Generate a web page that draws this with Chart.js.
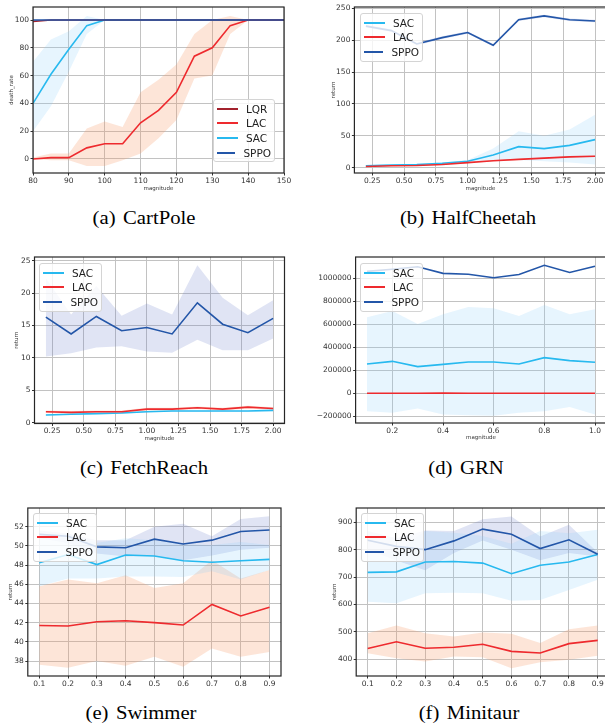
<!DOCTYPE html>
<html>
<head>
<meta charset="utf-8">
<script src="https://cdn.jsdelivr.net/npm/chart.js@4.4.0/dist/chart.umd.min.js"></script>
<style>
html, body { margin: 0; padding: 0; background: #fff; width: 605px; height: 723px; overflow: hidden; position: relative; }
canvas { position: absolute; }
.leg { position: absolute; box-sizing: border-box; background: rgba(255,255,255,0.8); border: 1px solid #d4d4d4; border-radius: 3px;
       padding: 1.5px 3px; font-family: 'DejaVu Sans'; font-size: 10.5px; color: #222; }
.leg .row { height: 14.6px; display: flex; align-items: center; white-space: nowrap; }
.leg .sw { display: inline-block; width: 21px; height: 2px; margin-right: 8px; }
.cap { position: absolute; font-family: 'Liberation Serif'; font-size: 18px; color: #000; white-space: nowrap;
       word-spacing: 2px; transform: translate(-50%, -50%) scaleX(1.15); }
</style>
</head>
<body>
<script>
// colours
const SAC_C = '#27b9ef', LAC_C = '#ee2a2e', SPPO_C = '#2356a8', LQR_C = '#a3222d';
const SAC_B = 'rgba(135,206,250,0.2)', LAC_B = 'rgba(247,150,100,0.25)', SPPO_B = 'rgba(100,120,200,0.2)';

// (a) CartPole
const cpX = [80, 85, 90, 95, 100, 105, 110, 115, 120, 125, 130, 135, 140, 145, 150];
const cpLqr = [99, 100, 100, 100, 100, 100, 100, 100, 100, 100, 100, 100, 100, 100, 100];
const cpLac = [0, 1, 1, 8, 11, 11, 26, 35, 48, 74, 80, 96, 100, 100, 100];
const cpLacHi = [1, 4, 4, 22, 27, 23, 48, 57, 68, 90, 100, 103, 100, 100, 100];
const cpLacLo = [0, -1, -1, -5, -5, -1, 4, 15, 28, 58, 60, 90, 100, 100, 100];
const cpSac = [40, 61, 79, 96, 100, 100, 100, 100, 100, 100, 100, 100, 100, 100, 100];
const cpSacHi = [70, 86, 92, 103, 100, 100, 100, 100, 100, 100, 100, 100, 100, 100, 100];
const cpSacLo = [20, 38, 63, 90, 100, 100, 100, 100, 100, 100, 100, 100, 100, 100, 100];
const cpSppo = [100, 100, 100, 100, 100, 100, 100, 100, 100, 100, 100, 100, 100, 100, 100];
const cpXTicks = [80, 90, 100, 110, 120, 130, 140, 150];
const cpYTicks = [0, 20, 40, 60, 80, 100];

// (b) HalfCheetah
const hcX = [0.2, 0.4, 0.6, 0.8, 1.0, 1.2, 1.4, 1.6, 1.8, 2.0];
const hcSac = [3, 4, 5, 7, 10, 20, 33, 30, 35, 44];
const hcSacHi = [4, 5, 6, 8, 12, 30, 57, 50, 60, 83];
const hcSacLo = [2, 3, 4, 6, 8, 12, 12, 10, 8, 5];
const hcLac = [2, 3, 3.5, 5, 8, 11, 13, 15, 17, 18];
const hcLacHi = [2.6, 3.6, 4.2, 5.8, 9, 12, 14, 16, 18, 19];
const hcLacLo = [1.4, 2.4, 2.8, 4.2, 7, 10, 12, 14, 16, 17];
const hcSppo = [222, 215, 194, 204, 212, 192, 232, 238, 232, 230];
const hcSppoHi = [224, 217, 196, 206, 214, 194, 234, 240, 234, 232];
const hcSppoLo = [220, 213, 192, 202, 210, 190, 230, 236, 230, 228];
const hcXTicks = [0.25, 0.5, 0.75, 1.0, 1.25, 1.5, 1.75, 2.0];
const hcYTicks = [0, 50, 100, 150, 200, 250];

// (c) FetchReach
const frX = [0.2, 0.4, 0.6, 0.8, 1.0, 1.2, 1.4, 1.6, 1.8, 2.0];
const frSac = [1.2, 1.3, 1.4, 1.5, 1.7, 1.8, 1.8, 1.8, 1.8, 1.9];
const frSacHi = [1.3, 1.4, 1.5, 1.6, 1.8, 1.9, 1.9, 1.9, 1.9, 2.0];
const frSacLo = [1.1, 1.2, 1.3, 1.4, 1.6, 1.7, 1.7, 1.7, 1.7, 1.8];
const frLac = [1.7, 1.6, 1.7, 1.7, 2.1, 2.1, 2.3, 2.1, 2.4, 2.2];
const frLacHi = [1.9, 1.8, 1.9, 1.9, 2.3, 2.3, 2.5, 2.3, 2.6, 2.4];
const frLacLo = [1.5, 1.4, 1.5, 1.5, 1.9, 1.9, 2.1, 1.9, 2.2, 2.0];
const frSppo = [16.3, 13.7, 16.4, 14.2, 14.7, 13.7, 18.5, 15.2, 13.9, 16.1];
const frSppoHi = [22.3, 16.7, 21.1, 16.5, 18.4, 16.7, 24.3, 19.3, 16.6, 18.9];
const frSppoLo = [10.2, 10.7, 11.6, 11.8, 11.0, 10.8, 12.8, 11.2, 11.2, 13.0];
const frXTicks = [0.25, 0.5, 0.75, 1.0, 1.25, 1.5, 1.75, 2.0];
const frYTicks = [0, 5, 10, 15, 20, 25];

// (d) GRN
const grnX = [0.1, 0.2, 0.3, 0.4, 0.5, 0.6, 0.7, 0.8, 0.9, 1.0];
const grnSac = [255000, 278000, 232000, 252000, 272000, 272000, 255000, 310000, 284000, 270000];
const grnSacHi = [661000, 716000, 603000, 687000, 751000, 739000, 672000, 768000, 687000, 730000];
const grnSacLo = [-156000, -168000, -132000, -185000, -191000, -194000, -168000, -156000, -118000, -185000];
const grnLac = [900, 1100, 1000, 1300, 1200, 1000, 1100, 1200, 1000, 900];
const grnSppo = [1060000, 1078000, 1100000, 1043000, 1035000, 1005000, 1033000, 1113000, 1050000, 1105000];
const grnXTicks = [0.2, 0.4, 0.6, 0.8, 1.0];
const grnYTicks = [-200000, 0, 200000, 400000, 600000, 800000, 1000000];

// (e) Swimmer
const swX = [0.1, 0.2, 0.3, 0.4, 0.5, 0.6, 0.7, 0.8, 0.9];
const swSac = [48.25, 49.1, 48.05, 49.05, 48.95, 48.45, 48.3, 48.45, 48.6];
const swSacHi = [50.8, 51.3, 50.3, 50.8, 50.6, 50.2, 50.1, 50.4, 50.1];
const swSacLo = [45.8, 46.6, 46.6, 46.8, 46.8, 46.75, 47.35, 46.5, 47.5];
const swLac = [41.7, 41.65, 42.1, 42.2, 42.0, 41.75, 43.9, 42.7, 43.6];
const swLacHi = [45.8, 46.5, 46.1, 46.95, 45.6, 46.1, 48.5, 46.6, 47.5];
const swLacLo = [37.6, 37.3, 38.0, 37.5, 38.45, 37.4, 39.3, 38.45, 38.95];
const swSppo = [51.2, 51.0, 49.9, 49.8, 50.7, 50.2, 50.6, 51.5, 51.65];
const swSppoHi = [51.6, 51.3, 50.6, 50.6, 52.0, 52.3, 51.0, 52.8, 53.1];
const swSppoLo = [50.8, 50.3, 49.2, 48.9, 48.95, 48.5, 49.0, 49.6, 49.8];
const swXTicks = [0.1, 0.2, 0.3, 0.4, 0.5, 0.6, 0.7, 0.8, 0.9];
const swYTicks = [38, 40, 42, 44, 46, 48, 50, 52];

// (f) Minitaur
const mtX = [0.1, 0.2, 0.3, 0.4, 0.5, 0.6, 0.7, 0.8, 0.9];
const mtSac = [717, 719, 755, 757, 751, 712, 743, 755, 782];
const mtSacHi = [800, 792, 868, 862, 850, 822, 868, 860, 873];
const mtSacLo = [610, 604, 641, 643, 641, 614, 616, 653, 690];
const mtLac = [439, 464, 440, 444, 455, 429, 423, 457, 469];
const mtLacHi = [495, 523, 495, 483, 498, 493, 459, 510, 523];
const mtLacLo = [422, 404, 392, 410, 407, 367, 389, 398, 413];
const mtSppo = [834, 812, 800, 832, 875, 856, 804, 836, 783];
const mtSppoHi = [868, 842, 870, 868, 911, 921, 848, 891, 790];
const mtSppoLo = [800, 760, 725, 788, 833, 800, 761, 788, 775];
const mtXTicks = [0.1, 0.2, 0.3, 0.4, 0.5, 0.6, 0.7, 0.8, 0.9];
const mtYTicks = [400, 500, 600, 700, 800, 900];

const GRID = '#c2c2c2';
const TXT = '#333';

const framePlugin = {
    id: 'frame',
    afterDraw(chart) {
        const a = chart.chartArea, ctx = chart.ctx;
        ctx.save();
        ctx.strokeStyle = '#262626';
        ctx.lineWidth = 1.2;
        ctx.strokeRect(a.left, a.top, a.right - a.left, a.bottom - a.top);
        ctx.restore();
    }
};

function pts(xs, ys) {
    return xs.map((x, i) => ({x: x, y: ys[i]}));
}

function minus(v) {
    return v < 0 ? '\u2212' + (-v) : String(v);
}

function noPad(scale) {
    scale.paddingLeft = 0; scale.paddingRight = 0;
    scale.paddingTop = 0; scale.paddingBottom = 0;
}

function panel(o) {
    const plotW = o.R - o.L, plotH = o.B - o.T;
    const cw = Math.ceil(o.yW + plotW + o.padR);
    const ch = Math.ceil(o.padT + plotH + o.xH);
    const padR = cw - o.yW - plotW;
    const padB = ch - o.padT - plotH - o.xH;
    const cv = document.createElement('canvas');
    cv.width = cw; cv.height = ch;
    cv.style.left = (o.L - o.yW) + 'px';
    cv.style.top = (o.T - o.padT) + 'px';
    document.body.appendChild(cv);

    const ds = [];
    const n = o.series.length;
    o.series.forEach((s, k) => {
        if (!s.hi) return;
        ds.push({data: pts(o.x, s.hi), borderColor: 'transparent', backgroundColor: s.band,
                 borderWidth: 0, pointRadius: 0, fill: '+1', order: 20 + k});
        ds.push({data: pts(o.x, s.lo), borderColor: 'transparent', borderWidth: 0,
                 pointRadius: 0, fill: false, order: 20 + k});
    });
    o.series.forEach((s, k) => {
        ds.push({data: pts(o.x, s.y), borderColor: s.color, borderWidth: 1.6, pointRadius: 0,
                 fill: false, tension: 0, order: n - k});
    });

    const tickFont = {family: 'DejaVu Sans', size: 7.5};
    const titleFont = {family: 'DejaVu Sans', size: 5.5};

    new Chart(cv, {
        type: 'line',
        data: {datasets: ds},
        options: {
            responsive: false,
            animation: false,
            events: [],
            layout: {padding: {left: 0, top: o.padT, right: padR, bottom: padB}},
            plugins: {legend: {display: false}, tooltip: {enabled: false}},
            scales: {
                x: {
                    type: 'linear', min: o.xMin, max: o.xMax,
                    afterBuildTicks: s => { s.ticks = o.xTicks.map(v => ({value: v})); },
                    afterFit: s => { s.height = o.xH; noPad(s); },
                    ticks: {font: tickFont, color: TXT, padding: 1, autoSkip: false, maxRotation: 0,
                            callback: v => v.toFixed(o.xDec)},
                    grid: {color: GRID, lineWidth: 1, drawTicks: true, tickLength: 2.5, tickColor: '#333'},
                    border: {display: false},
                    title: {display: !!o.xTitle, text: o.xTitle || '', font: titleFont, color: TXT,
                            padding: {top: 0, bottom: o.xTitlePad || 0}}
                },
                y: {
                    type: 'linear', min: o.yMin, max: o.yMax,
                    afterBuildTicks: s => { s.ticks = o.yTicks.map(v => ({value: v})); },
                    afterFit: s => { s.width = o.yW; noPad(s); },
                    ticks: {font: tickFont, color: TXT, padding: 1.5, autoSkip: false,
                            callback: v => minus(v)},
                    grid: {color: GRID, lineWidth: 1, drawTicks: true, tickLength: 2.5, tickColor: '#333'},
                    border: {display: false},
                    title: {display: !!o.yTitle, text: o.yTitle || '', font: titleFont, color: TXT,
                            padding: {top: o.yTitlePad || 0, bottom: 0}}
                }
            }
        },
        plugins: [framePlugin]
    });

    // legend box laid over the plot, like matplotlib's
    const leg = document.createElement('div');
    leg.className = 'leg';
    leg.style.left = o.leg[0] + 'px';
    leg.style.top = o.leg[1] + 'px';
    leg.style.width = o.leg[2] + 'px';
    o.legOrder.forEach(k => {
        const s = o.series[k];
        const row = document.createElement('div');
        row.className = 'row';
        const sw = document.createElement('span');
        sw.className = 'sw';
        sw.style.background = s.color;
        row.appendChild(sw);
        row.appendChild(document.createTextNode(s.label));
        leg.appendChild(row);
    });
    document.body.appendChild(leg);

    const cap = document.createElement('div');
    cap.className = 'cap';
    cap.style.left = o.cap[0] + 'px';
    cap.style.top = o.cap[1] + 'px';
    cap.textContent = o.caption;
    document.body.appendChild(cap);
}

panel({
    L: 33, R: 284, T: 7, B: 173, yW: 33, padT: 7, padR: 12, xH: 24,
    x: cpX, xMin: 80, xMax: 150, xTicks: cpXTicks, xDec: 0,
    yMin: -10.1, yMax: 109.4, yTicks: cpYTicks,
    xTitle: 'magnitude', xTitlePad: 4.7, yTitle: 'death_rate', yTitlePad: 8.7,
    series: [
        {label: 'SAC', color: SAC_C, y: cpSac, hi: cpSacHi, lo: cpSacLo, band: SAC_B},
        {label: 'LAC', color: LAC_C, y: cpLac, hi: cpLacHi, lo: cpLacLo, band: LAC_B},
        {label: 'LQR', color: LQR_C, y: cpLqr},
        {label: 'SPPO', color: SPPO_C, y: cpSppo}
    ],
    legOrder: [2, 1, 0, 3], leg: [213, 99, 62],
    caption: '(a) CartPole', cap: [144, 218]
});

panel({
    L: 354.4, R: 606.5, T: 7, B: 173, yW: 44.4, padT: 7, padR: 8, xH: 24,
    x: hcX, xMin: 0.11, xMax: 2.09, xTicks: hcXTicks, xDec: 2,
    yMin: -8.3, yMax: 252, yTicks: hcYTicks,
    xTitle: 'magnitude', xTitlePad: 4.7, yTitle: 'return', yTitlePad: 20.7,
    series: [
        {label: 'SAC', color: SAC_C, y: hcSac, hi: hcSacHi, lo: hcSacLo, band: SAC_B},
        {label: 'LAC', color: LAC_C, y: hcLac, hi: hcLacHi, lo: hcLacLo, band: LAC_B},
        {label: 'SPPO', color: SPPO_C, y: hcSppo, hi: hcSppoHi, lo: hcSppoLo, band: SPPO_B}
    ],
    legOrder: [0, 1, 2], leg: [360, 13, 63],
    caption: '(b) HalfCheetah', cap: [468, 218]
});

panel({
    L: 34.5, R: 284.5, T: 257, B: 423.5, yW: 34.5, padT: 7, padR: 12, xH: 24,
    x: frX, xMin: 0.11, xMax: 2.09, xTicks: frXTicks, xDec: 2,
    yMin: -0.12, yMax: 25.57, yTicks: frYTicks,
    xTitle: 'magnitude', xTitlePad: 5.2, yTitle: 'return', yTitlePad: 13.7,
    series: [
        {label: 'SAC', color: SAC_C, y: frSac, hi: frSacHi, lo: frSacLo, band: SAC_B},
        {label: 'LAC', color: LAC_C, y: frLac, hi: frLacHi, lo: frLacLo, band: LAC_B},
        {label: 'SPPO', color: SPPO_C, y: frSppo, hi: frSppoHi, lo: frSppoLo, band: SPPO_B}
    ],
    legOrder: [0, 1, 2], leg: [39, 263, 63],
    caption: '(c) FetchReach', cap: [144, 468]
});

panel({
    L: 355.6, R: 606.4, T: 257, B: 423, yW: 40.6, padT: 7, padR: 8, xH: 24,
    x: grnX, xMin: 0.055, xMax: 1.045, xTicks: grnXTicks, xDec: 1,
    yMin: -258000, yMax: 1185000, yTicks: grnYTicks,
    xTitle: 'magnitude', xTitlePad: 5.7,
    series: [
        {label: 'SAC', color: SAC_C, y: grnSac, hi: grnSacHi, lo: grnSacLo, band: SAC_B},
        {label: 'LAC', color: LAC_C, y: grnLac},
        {label: 'SPPO', color: SPPO_C, y: grnSppo}
    ],
    legOrder: [0, 1, 2], leg: [360, 263, 63],
    caption: '(d) GRN', cap: [466, 468]
});

panel({
    L: 27.8, R: 281, T: 508, B: 676, yW: 27.8, padT: 7, padR: 12, xH: 20,
    x: swX, xMin: 0.06, xMax: 0.94, xTicks: swXTicks, xDec: 1,
    yMin: 36.44, yMax: 53.95, yTicks: swYTicks,
    yTitle: 'return', yTitlePad: 7.7,
    series: [
        {label: 'SAC', color: SAC_C, y: swSac, hi: swSacHi, lo: swSacLo, band: SAC_B},
        {label: 'LAC', color: LAC_C, y: swLac, hi: swLacHi, lo: swLacLo, band: LAC_B},
        {label: 'SPPO', color: SPPO_C, y: swSppo, hi: swSppoHi, lo: swSppoLo, band: SPPO_B}
    ],
    legOrder: [0, 1, 2], leg: [33, 513, 64],
    caption: '(e) Swimmer', cap: [141, 713]
});

panel({
    L: 356.2, R: 609.2, T: 508, B: 676, yW: 36.2, padT: 7, padR: 6, xH: 20,
    x: mtX, xMin: 0.06, xMax: 0.94, xTicks: mtXTicks, xDec: 1,
    yMin: 339, yMax: 952, yTicks: mtYTicks,
    yTitle: 'return', yTitlePad: 11.7,
    series: [
        {label: 'SAC', color: SAC_C, y: mtSac, hi: mtSacHi, lo: mtSacLo, band: SAC_B},
        {label: 'LAC', color: LAC_C, y: mtLac, hi: mtLacHi, lo: mtLacLo, band: LAC_B},
        {label: 'SPPO', color: SPPO_C, y: mtSppo, hi: mtSppoHi, lo: mtSppoLo, band: SPPO_B}
    ],
    legOrder: [0, 1, 2], leg: [361, 513, 63],
    caption: '(f) Minitaur', cap: [469, 713]
});
</script>
</body>
</html>
